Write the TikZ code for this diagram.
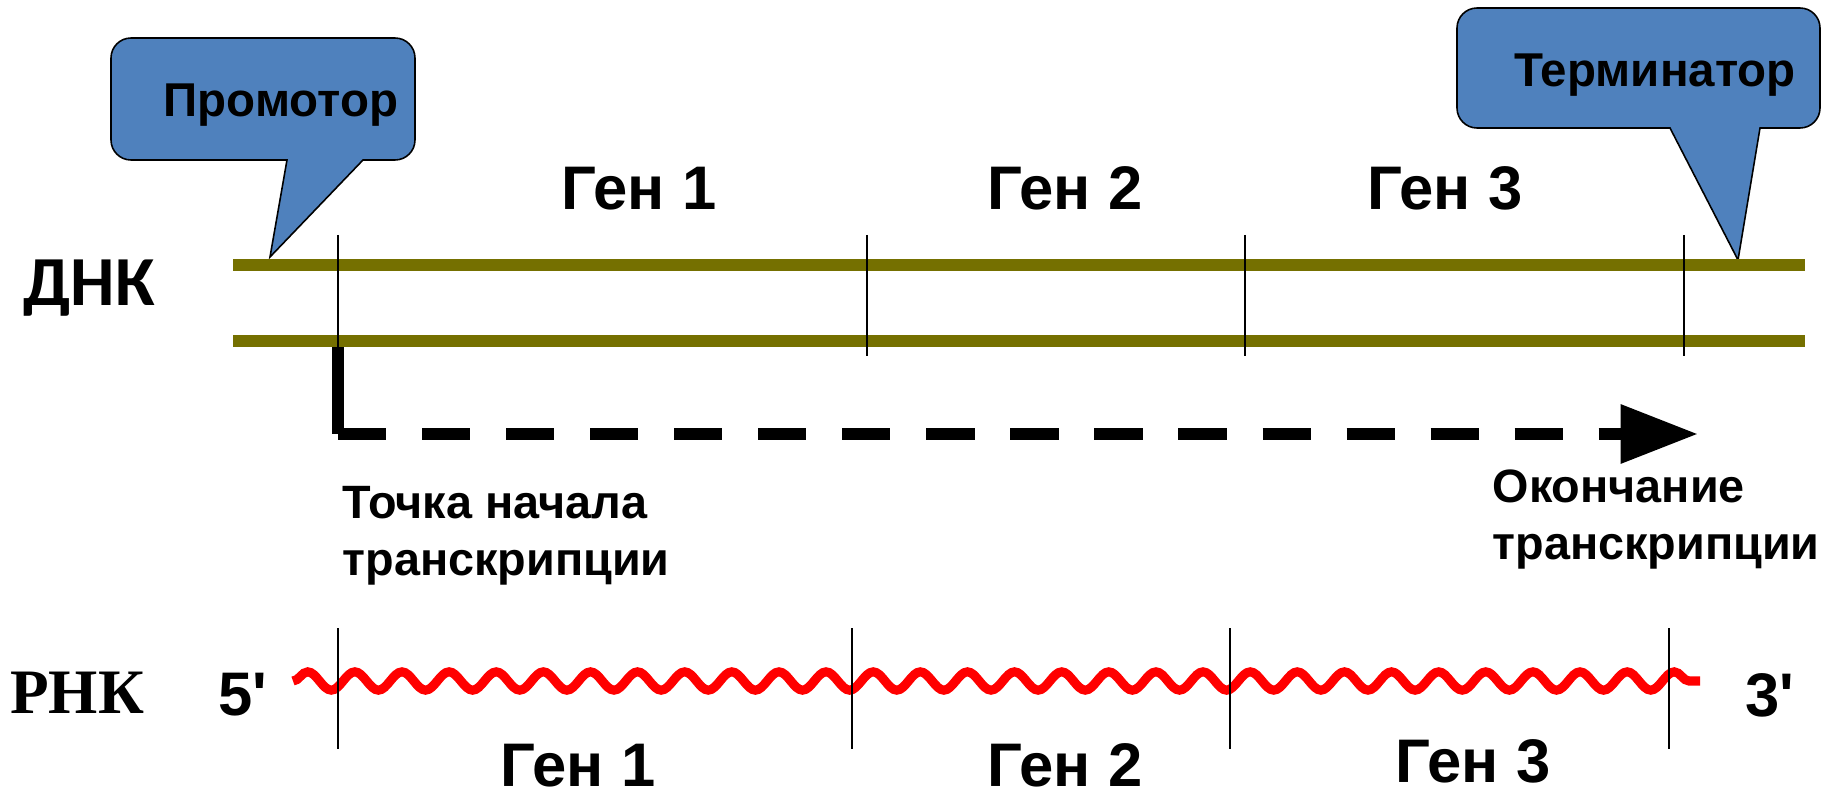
\documentclass[tikz,border=0pt]{standalone}
\usepackage{fontspec}
\setmainfont{Liberation Sans}
\newfontfamily\carlitofont{Carlito}
\newfontfamily\serifrnk{Liberation Serif}
\usetikzlibrary{arrows.meta,decorations.pathmorphing,positioning}
\definecolor{dnaolive}{RGB}{117,112,0}
\definecolor{calloutblue}{RGB}{79,129,189}
\tikzset{
  dnaline/.style={draw=dnaolive, line width=3.4pt},
  genetick/.style={draw=black, line width=0.45pt},
  genlabel/.style={font=\bfseries\fontsize{17.5}{20}\selectfont, inner sep=0pt, anchor=base},
  callout/.style={draw=black, line width=0.45pt, fill=calloutblue},
  callouttext/.style={font=\bfseries\fontsize{13.5}{15}\selectfont, inner sep=0pt, anchor=base},
  note/.style={font=\bfseries\fontsize{13.3}{16.2}\selectfont, align=left, inner sep=0pt},
  rnawave/.style={draw=red, line width=2.6pt, decorate,
    decoration={snake, segment length=13.4pt, amplitude=2.6pt}},
  startarr/.style={line width=3.4pt},
  dasharr/.style={line width=3.4pt, dash pattern=on 13.7pt off 10.2pt,
    -{Triangle[length=22pt,width=16pt]}}
}

\begin{document}
\begin{tikzpicture}[x=0.01cm, y=-0.01cm]
  \useasboundingbox (0,0) rectangle (1839,794);

  % callouts
  \draw[callout] (287,160) -- (270,257) -- (363,160) [rounded corners=0.2cm] -- (415,160) -- (415,38) -- (111,38) -- (111,160) [sharp corners] -- cycle;
  \node[callouttext] (promoter) at (281,117) {Промотор};
  \draw[callout] (1670,128) -- (1738,260) -- (1760,128) [rounded corners=0.2cm] -- (1820,128) -- (1820,8) -- (1457,8) -- (1457,128) [sharp corners] -- cycle;
  \node[callouttext] (terminator) at (1655,87) {Терминатор};

  % DNA
  \node[font=\carlitofont\bfseries\fontsize{20}{22}\selectfont, inner sep=0pt, anchor=base] (dna) at (89,305) {ДНК};
  \coordinate (dnaTopL) at (233,265);
  \coordinate (dnaTopR) at (1805,265);
  \coordinate (dnaBotL) at (233,341);
  \coordinate (dnaBotR) at (1805,341);
  \draw[dnaline] (dnaTopL) -- (dnaTopR);
  \draw[dnaline] (dnaBotL) -- (dnaBotR);
  \draw[genetick] (338,235) -- (338,356);
  \draw[genetick] (867,235) -- (867,356);
  \draw[genetick] (1245,235) -- (1245,356);
  \draw[genetick] (1684,235) -- (1684,356);
  \node[genlabel] (dgen1) at (639,210) {Ген 1};
  \node[genlabel] (dgen2) at (1065,210) {Ген 2};
  \node[genlabel] (dgen3) at (1445,210) {Ген 3};

  % transcription
  \coordinate (tss) at (338,347);
  \coordinate (turn) at (338,434);
  \coordinate (tend) at (1698,434);
  \draw[startarr] (tss) -- (turn);
  \draw[dasharr] (turn) -- (tend);
  \node[note, anchor=north west] (startnote) at (342,486) {Точка начала\\транскрипции};
  \node[note, anchor=north west] (endnote) at (1492,469) {Окончание\\транскрипции};

  % RNA
  \node[font=\serifrnk\bfseries\fontsize{18}{20}\selectfont, inner sep=0pt, anchor=base] (rna) at (77,713) {РНК};
  \node[genlabel] (five) at (243,715) {5\textquotesingle};
  \node[genlabel] (three) at (1770,716) {3\textquotesingle};
  \coordinate (rnaL) at (293,681);
  \coordinate (rnaR) at (1700,681);
  \draw[rnawave] (rnaL) -- (rnaR);
  \draw[genetick] (338,628) -- (338,749);
  \draw[genetick] (852,628) -- (852,749);
  \draw[genetick] (1230,628) -- (1230,749);
  \draw[genetick] (1669,628) -- (1669,749);
  \node[genlabel] (rgen1) at (578,786) {Ген 1};
  \node[genlabel] (rgen2) at (1065,786) {Ген 2};
  \node[genlabel] (rgen3) at (1473,782) {Ген 3};
\end{tikzpicture}
\end{document}
